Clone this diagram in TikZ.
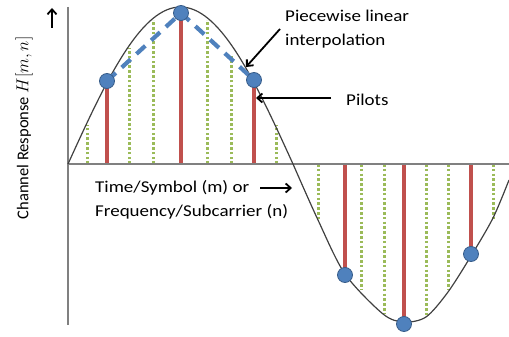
\documentclass[tikz,border=0pt]{standalone}
\usepackage{fontspec}
\setmainfont{Carlito}
\usetikzlibrary{arrows.meta}
\definecolor{pilotred}{HTML}{C0504D}
\definecolor{datagreen}{HTML}{9BBB59}
\definecolor{pilotblue}{HTML}{4F81BD}
\definecolor{pilotedge}{HTML}{385D8A}
\begin{document}
\begin{tikzpicture}[
    x=1pt, y=-1pt,
    axis/.style={draw=gray, line width=1.8pt},
    response/.style={draw=black!75, line width=1.2pt},
    pilotstem/.style={draw=pilotred, line width=3.4pt},
    datastem/.style={draw=datagreen, line width=3pt, dash pattern=on 2.6pt off 2.2pt},
    linear/.style={draw=pilotblue, line width=4.2pt, dash pattern=on 12pt off 8pt},
    pilot/.style={circle, fill=pilotblue, draw=pilotedge, line width=0.8pt, minimum size=15pt, inner sep=0pt},
    label/.style={font=\fontsize{16.5}{24}\selectfont, inner sep=0pt, align=left, anchor=west, xscale=1.15},
    pointer/.style={-{Straight Barb[length=5pt,width=9pt]}, line width=1.8pt}
]
\useasboundingbox (0,0) rectangle (509,337);
% axes
\coordinate (origin) at (68,164);
\coordinate (yTop) at (68,7);
\coordinate (yBottom) at (68,325);
\coordinate (xEnd) at (509,164);
% pilot positions
\coordinate (pos1) at (107,81);
\coordinate (pos2) at (181,13);
\coordinate (pos3) at (254,80);
\coordinate (pos4) at (345,275);
\coordinate (pos5) at (404,324);
\coordinate (pos6) at (471,254);
% data samples
\foreach \x/\y in {87/125, 129/48, 153/20, 207/20, 231/55, 276/125,
                   318/220, 361/290, 384/313, 426/317, 448/290, 493/219}
    \draw[datastem] (\x,164) -- (\x,\y);
\foreach \i in {1,...,6}
    \draw[pilotstem] (pos\i |- origin) -- (pos\i);
\draw[axis] (yTop) -- (yBottom);
\draw[axis] (origin) -- (xEnd);
% channel
\draw[response] plot[domain=68:293, samples=80] (\x, {164-157*sin((\x-68)*0.8)})
    -- plot[smooth] coordinates {(293,164) (318,220) (345,274) (383,314) (404,322)
        (426,317) (448,292) (471,256) (493,218) (509,180)};
\draw[linear] (pos1) -- (pos2) -- (pos3);
\foreach \i in {1,...,6}
    \node[pilot] (p\i) at (pos\i) {};
% labels
\node[label, xscale=1/1.15, rotate=90, anchor=center] (ylabel) at (24,128) {Channel Response $H[m,n]$};
\node[label] (xlabel) at (95,200) {Time/Symbol (m) or\\Frequency/Subcarrier (n)};
\node[label] (pwl) at (285,29) {Piecewise linear\\interpolation};
\node[label] (pilots) at (346,100) {Pilots};
\coordinate (pwlTip) at (246,67);
\coordinate (pilotsTip) at (256,98);
\coordinate (upStart) at (52,28);
\coordinate (upEnd) at (52,8);
\coordinate (rightStart) at (260,188);
\coordinate (rightEnd) at (292,188);
\draw[pointer] ([xshift=-5pt]pwl.west) -- (pwlTip);
\draw[pointer] ([xshift=-15pt,yshift=2pt]pilots.west) -- (pilotsTip);
\draw[pointer] (upStart) -- (upEnd);
\draw[pointer] (rightStart) -- (rightEnd);
\end{tikzpicture}
\end{document}
